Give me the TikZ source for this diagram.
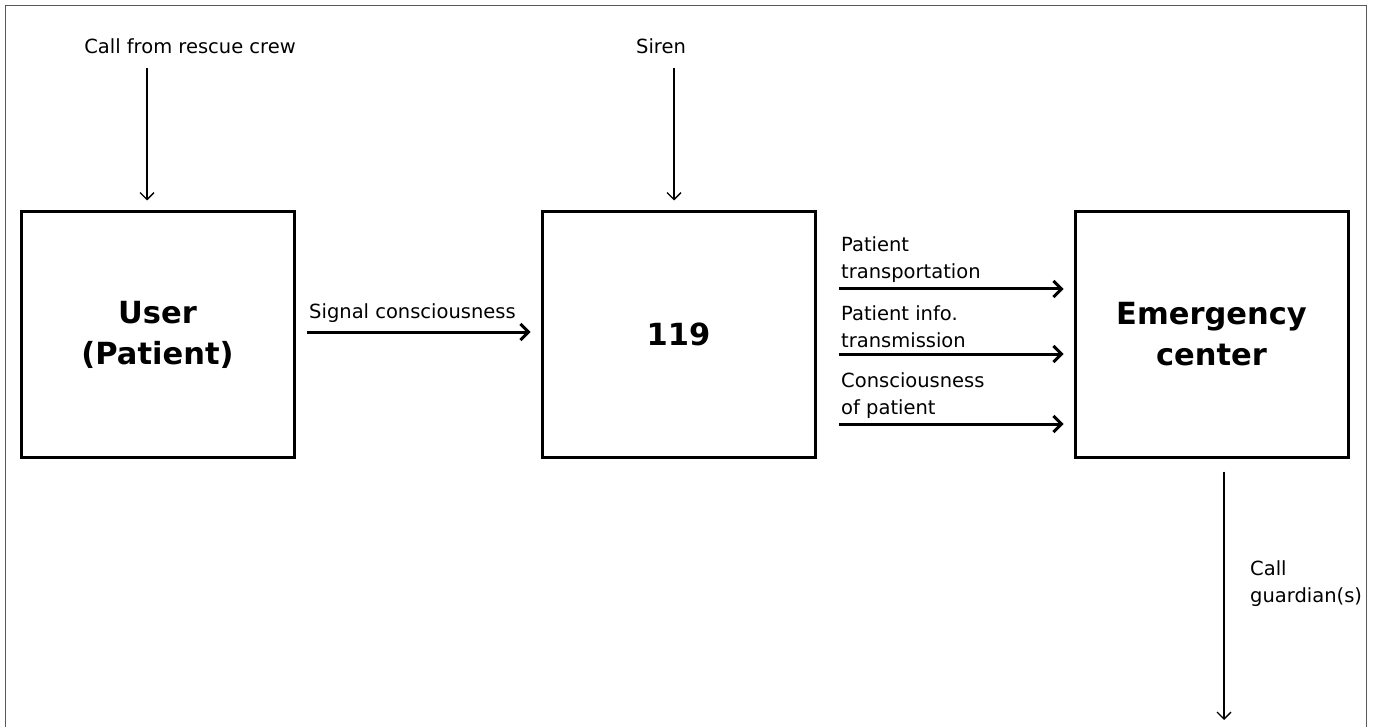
\documentclass[tikz,border=0pt]{standalone}
\usepackage{fontspec}
\setmainfont{DejaVu Sans}
\usetikzlibrary{arrows.meta}
\begin{document}
\begin{tikzpicture}[x=1pt,y=-1pt,
  blk/.style={draw, line width=3pt, minimum width=273pt, minimum height=245pt, inner sep=0pt, font=\fontsize{30.5}{41}\selectfont\bfseries, align=center},
  lbl/.style={font=\fontsize{19.5}{27}\selectfont, inner sep=0pt, align=left},
  thin/.style={line width=1.3pt, -{Straight Barb[length=7pt,width=14pt,line width=1.3pt]}},
  thick/.style={line width=3pt, -{Straight Barb[length=8pt,width=16pt,line width=3pt]}}]
\useasboundingbox (0,0) rectangle (1373,727);
\draw[line width=1pt, gray!70!black] (5,740) -- (5,6) -- (1366,6) -- (1366,740);
\node[blk] (user) at (157.5,334.5) {User\\(Patient)};
\node[blk] (n119) at (678.5,334.5) {119};
\node[blk] (emc) at (1211.5,334.5) {Emergency\\center};
% top inputs
\node[lbl, anchor=center] (callr) at (190,46) {Call from rescue crew};
\node[lbl, anchor=center] (siren) at (661,46) {Siren};
\coordinate (a1s) at (147,68);
\coordinate (a2s) at (674,68);
\draw[thin] (a1s) -- ([yshift=10pt]a1s |- user.north);
\draw[thin] (a2s) -- ([yshift=10pt]a2s |- n119.north);
% signal
\draw[thick] ([xshift=11pt]user.east |- 0,332) -- ([xshift=-10pt]n119.west |- 0,332);
\node[lbl, anchor=base west] (sig) at (309,319) {Signal consciousness};
% right arrows
\draw[thick] ([xshift=22pt]n119.east |- 0,289) -- ([xshift=-10pt]emc.west |- 0,289);
\draw[thick] ([xshift=22pt]n119.east |- 0,354) -- ([xshift=-10pt]emc.west |- 0,354);
\draw[thick] ([xshift=22pt]n119.east |- 0,424) -- ([xshift=-10pt]emc.west |- 0,424);
\node[lbl, anchor=base west] (l1) at (841,279) {Patient\\transportation};
\node[lbl, anchor=base west] (l2) at (841,347) {Patient info.\\transmission};
\node[lbl, anchor=base west] (l3) at (841,414) {Consciousness\\of patient};
% down
\coordinate (dend) at (1224,720);
\draw[thin] ([yshift=-13pt]emc.south -| dend) -- (dend);
\node[lbl, anchor=base west] (cg) at (1250,602) {Call\\guardian(s)};
\end{tikzpicture}
\end{document}
